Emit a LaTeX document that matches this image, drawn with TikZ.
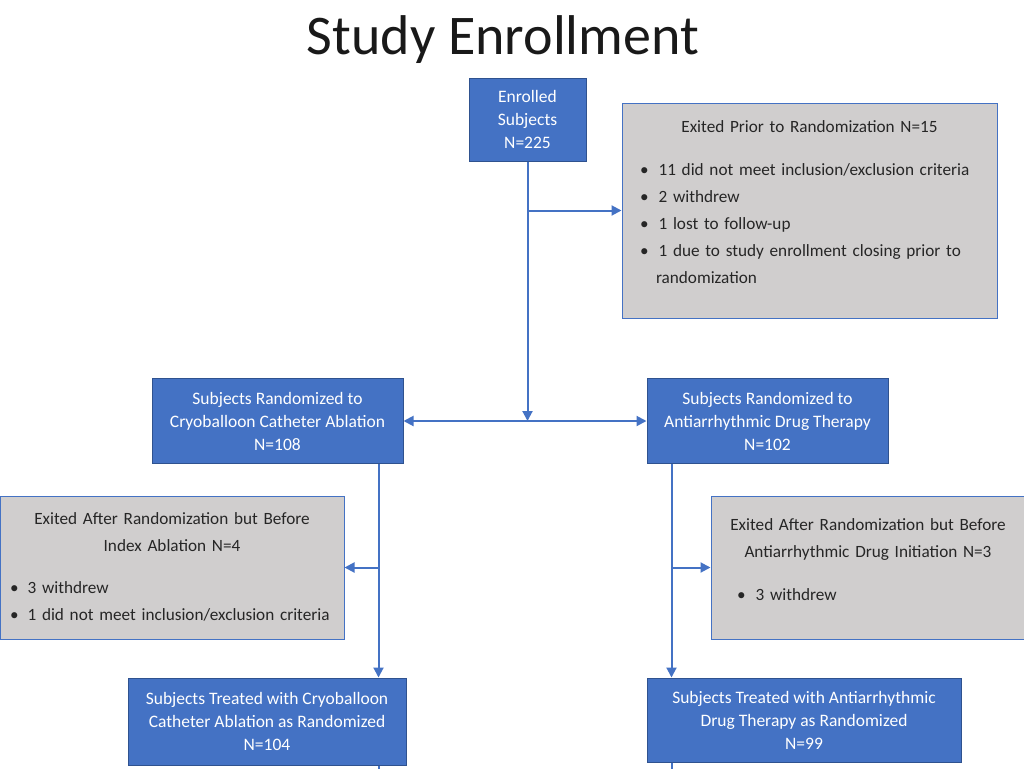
\documentclass[tikz,border=0pt]{standalone}
\usepackage{fontspec}
\setmainfont{Carlito}
\usepackage{enumitem}
\usetikzlibrary{arrows.meta, positioning, calc}
\definecolor{boxblue}{HTML}{4472C4}
\definecolor{boxedge}{HTML}{2F528F}
\definecolor{exitgray}{HTML}{D0CECE}
\definecolor{exittext}{HTML}{262626}
\setlist[itemize]{label=\textbullet, align=left, labelwidth=6pt, itemsep=0pt, parsep=0pt, topsep=0pt, partopsep=0pt}

\begin{document}
\begin{tikzpicture}[
    x=1pt, y=-1pt,
    subject/.style={rectangle, draw=boxedge, line width=1pt, fill=boxblue, text=white, align=center, inner sep=2pt, font=\fontsize{17.5}{23}\selectfont},
    exitbox/.style={rectangle, draw=boxblue, line width=1pt, fill=exitgray, text=exittext, align=left, inner ysep=4pt, font=\fontsize{17.2}{27}\selectfont},
    arrow/.style={-{Triangle[length=10pt, width=10pt]}, draw=boxblue, line width=2pt},
    biarrow/.style={{Triangle[length=10pt, width=10pt]}-{Triangle[length=10pt, width=10pt]}, draw=boxblue, line width=2pt},
    connector/.style={draw=boxblue, line width=2pt}
]
\useasboundingbox (0,0) rectangle (1024,768);

% Title
\node[font=\fontsize{56}{60}\selectfont, text=black!90] (title) at (503,40) {Study Enrollment};

% Enrollment
\node[subject, minimum width=117pt, minimum height=83pt] (enrolled) at (527.5,119.5) {Enrolled\\Subjects\\N=225};
\node[exitbox, minimum width=375pt, minimum height=215pt, inner xsep=18pt, text width=339pt] (exitpre) at (809.5,210.5) {%
  {\centering Exited Prior to Randomization N=15\par}\vspace{16pt}
  \begin{itemize}[leftmargin=16pt, labelindent=0pt, labelsep=10pt]
    \item 11 did not meet inclusion/exclusion criteria
    \item 2 withdrew
    \item 1 lost to follow-up
    \item 1 due to study enrollment closing prior to randomization
  \end{itemize}\par\vspace{16pt}};

% Randomized arms
\node[subject, minimum width=251pt, minimum height=85pt] (cryo) at (277.5,421) {Subjects Randomized to\\Cryoballoon Catheter Ablation\\N=108};
\node[subject, minimum width=241pt, minimum height=85pt] (aad) at (767.5,421) {Subjects Randomized to\\Antiarrhythmic Drug Therapy\\N=102};

% Exits after randomization
\node[exitbox, minimum width=344pt, minimum height=143pt, inner xsep=10pt, text width=324pt] (exitcryo) at (172,567.5) {%
  {\centering Exited After Randomization but Before\\Index Ablation N=4\par}\vspace{15pt}
  \begin{itemize}[leftmargin=15pt, labelindent=0pt, labelsep=9pt]
    \item 3 withdrew
    \item 1 did not meet inclusion/exclusion criteria
  \end{itemize}\par\vspace{1pt}};
\node[exitbox, minimum width=314pt, minimum height=143pt, inner xsep=12pt, text width=290pt] (exitaad) at (868,567.5) {%
  {\centering Exited After Randomization but Before\\Antiarrhythmic Drug Initiation N=3\par}\vspace{16pt}
  \begin{itemize}[leftmargin=30pt, labelindent=14pt, labelsep=10pt]
    \item 3 withdrew
  \end{itemize}\par\vspace{15pt}};

% Treated
\node[subject, minimum width=278pt, minimum height=87pt] (treatcryo) at (267,721.5) {Subjects Treated with Cryoballoon\\Catheter Ablation as Randomized\\N=104};
\node[subject, minimum width=314pt, minimum height=84pt] (treataad) at (804,720) {Subjects Treated with Antiarrhythmic\\Drug Therapy as Randomized\\N=99};

% Junctions
\coordinate (split) at (enrolled.south |- cryo.east);
\coordinate (cryodrop) at ([xshift=-25pt]cryo.south east);
\coordinate (aaddrop) at ([xshift=25pt]aad.south west);
\coordinate (pagebottom) at (0,772);

% Arrows
\draw[arrow] (enrolled.south) -- (split);
\draw[arrow] (enrolled.south |- exitpre.west) -- (exitpre.west);
\draw[biarrow] (cryo.east) -- (aad.west);
\draw[arrow] (cryodrop) -- (cryodrop |- treatcryo.north);
\draw[arrow] (cryodrop |- exitcryo.east) -- (exitcryo.east);
\draw[arrow] (aaddrop) -- (aaddrop |- treataad.north);
\draw[arrow] (aaddrop |- exitaad.west) -- (exitaad.west);
\draw[connector] (cryodrop |- treatcryo.south) -- (cryodrop |- pagebottom);
\draw[connector] (aaddrop |- treataad.south) -- (aaddrop |- pagebottom);

\end{tikzpicture}
\end{document}
